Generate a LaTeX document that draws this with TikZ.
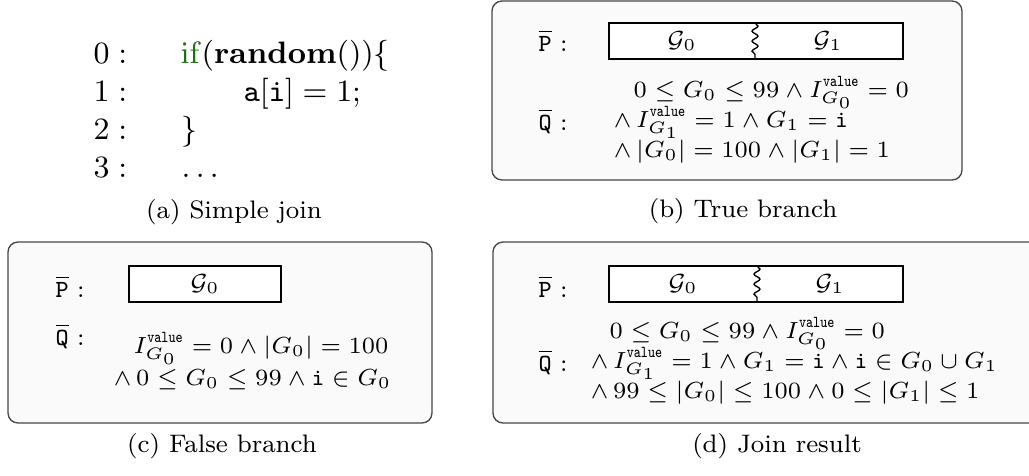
\RequirePackage{fix-cm}
\documentclass[tikz,border=0pt]{standalone}
\usepackage{amsmath,amssymb,graphicx}
\usetikzlibrary{decorations.pathmorphing}
\definecolor{kwgreen}{RGB}{30,110,20}
\definecolor{boxfill}{RGB}{250,250,250}
\definecolor{boxline}{RGB}{70,70,70}
\tikzset{
  panel/.style={draw=boxline, fill=boxfill, rounded corners=3pt, line width=0.4pt},
  pbox/.style={draw=black, fill=white, line width=0.55pt},
  squig/.style={draw=black, line width=0.4pt, decorate, decoration={snake, amplitude=0.9pt, segment length=3pt}},
  txt/.style={anchor=base west, inner sep=0pt},
  ctxt/.style={anchor=base, inner sep=0pt},
  codef/.style={font=\fontsize{9.3}{11}\selectfont},
  mathf/.style={font=\fontsize{7}{9}\selectfont},
  labf/.style={font=\fontsize{7.4}{9}\selectfont},
  capf/.style={font=\fontsize{7.6}{9}\selectfont},
}
\newcommand{\VAL}{\text{\scalebox{0.8}[1]{\ttfamily value}}}
\begin{document}
\begin{tikzpicture}[x=0.3pt,y=-0.3pt]
\useasboundingbox (0,0) rectangle (1029,475);
\clip (0,0) rectangle (1029,475);
% ---------- (a)
\node[txt,codef] (a0n) at (93,63) {$0:$};
\node[txt,codef] (a1n) at (93,101) {$1:$};
\node[txt,codef] (a2n) at (93,139) {$2:$};
\node[txt,codef] (a3n) at (93,177) {$3:$};
\node[txt,codef] (a0) at (180,63) {$\textcolor{kwgreen}{\mathrm{if}}(\mathbf{random}())\{$};
\node[txt,codef] (a1) at (243,101) {$\mathtt{a}[\mathtt{i}] = 1;$};
\node[txt,codef] (a2) at (181,139) {$\}$};
\node[txt,codef] (a3) at (181,177) {$\ldots$};
\node[ctxt,capf] (capa) at (234,218) {(a) Simple join};
% ---------- (b)
\draw[panel] (492,1) rectangle (962,180);
\node[txt,labf] (bP) at (538,51) {$\overline{\mathtt{P}}:$};
\node[txt,labf] (bQ) at (538,130) {$\overline{\mathtt{Q}}:$};
\draw[pbox] (609,23) rectangle (903,59);
\draw[squig] (755,23) -- (755,59);
\node[anchor=center,inner sep=0pt,mathf] (bG0) at (682,41) {$\mathcal{G}_0$};
\node[anchor=center,inner sep=0pt,mathf] (bG1) at (828,41) {$\mathcal{G}_1$};
\node[txt,mathf] (bq1) at (633,97) {$0 \leq G_0 \leq 99 \wedge I^{\VAL}_{G_0} = 0$};
\node[txt,mathf] (bq2) at (613,127) {$\wedge\, I^{\VAL}_{G_1} = 1 \wedge G_1 = \mathtt{i}$};
\node[txt,mathf] (bq3) at (613,157) {$\wedge\, |G_0| = 100 \wedge |G_1| = 1$};
\node[ctxt,capf] (capb) at (743,217) {(b) True branch};
% ---------- (c)
\draw[panel] (8,242) rectangle (432,423);
\node[txt,labf] (cP) at (55,297) {$\overline{\mathtt{P}}:$};
\node[txt,labf] (cQ) at (55,345) {$\overline{\mathtt{Q}}:$};
\draw[pbox] (129,266) rectangle (281,302);
\node[anchor=center,inner sep=0pt,mathf] (cG0) at (205,284) {$\mathcal{G}_0$};
\node[txt,mathf] (cq1) at (133,353) {$I^{\VAL}_{G_0} = 0 \wedge |G_0| = 100$};
\node[txt,mathf] (cq2) at (113,385) {$\wedge\, 0 \leq G_0 \leq 99 \wedge \mathtt{i} \in G_0$};
\node[ctxt,capf] (capc) at (222,452) {(c) False branch};
% ---------- (d)
\draw[panel] (493,242) rectangle (1060,423);
\node[txt,labf] (dP) at (538,297) {$\overline{\mathtt{P}}:$};
\node[txt,labf] (dQ) at (538,371) {$\overline{\mathtt{Q}}:$};
\draw[pbox] (609,266) rectangle (903,302);
\draw[squig] (757,266) -- (757,302);
\node[anchor=center,inner sep=0pt,mathf] (dG0) at (683,284) {$\mathcal{G}_0$};
\node[anchor=center,inner sep=0pt,mathf] (dG1) at (830,284) {$\mathcal{G}_1$};
\node[txt,mathf] (dq1) at (609,338) {$0 \leq G_0 \leq 99 \wedge I^{\VAL}_{G_0} = 0$};
\node[txt,mathf] (dq2) at (590,368) {$\wedge\, I^{\VAL}_{G_1} = 1 \wedge G_1 = \mathtt{i} \wedge \mathtt{i} \in G_0 \cup G_1$};
\node[txt,mathf] (dq3) at (590,398) {$\wedge\, 99 \leq |G_0| \leq 100 \wedge 0 \leq |G_1| \leq 1$};
\node[ctxt,capf] (capd) at (777,452) {(d) Join result};
\end{tikzpicture}
\end{document}
